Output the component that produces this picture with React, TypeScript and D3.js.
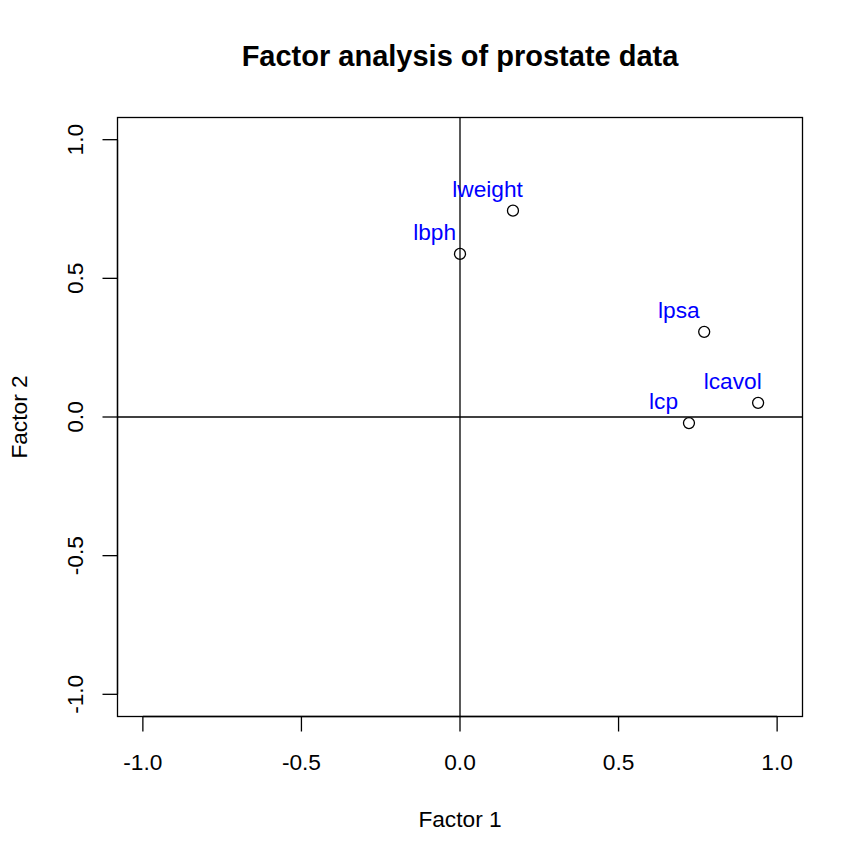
import React from "react";
import * as d3 from "d3";

const variables = ["lcavol", "lweight", "lbph", "lcp", "lpsa"];
const factor1 = [0.94, 0.167, 0.0, 0.722, 0.77];
const factor2 = [0.051, 0.744, 0.588, -0.022, 0.307];
const xTicks = [-1.0, -0.5, 0.0, 0.5, 1.0];
const yTicks = [-1.0, -0.5, 0.0, 0.5, 1.0];

export default function App() {
  const W = 864, H = 864;
  const left = 117.5, right = 802.5, top = 117.5, bottom = 716.5;
  const x = d3.scaleLinear().domain([-1.08, 1.08]).range([left, right]);
  const y = d3.scaleLinear().domain([-1.08, 1.08]).range([bottom, top]);
  const font = "Liberation Sans, Arial, Helvetica, sans-serif";
  const fmt = (v: number) => d3.format(".1f")(v).replace("\u2212", "-");
  const fs = 22.7;
  return (
    <svg width={W} height={H} style={{ position: "absolute", left: 0, top: 0 }} fontFamily={font}>
      <rect x={0} y={0} width={W} height={H} fill="white" />
      <text x={(left + right) / 2} y={66} textAnchor="middle" fontWeight="bold" fontSize={29}>
        Factor analysis of prostate data
      </text>
      <rect x={left} y={top} width={right - left} height={bottom - top} fill="none" stroke="black" strokeWidth={1.3} />
      {/* reference lines */}
      <line x1={left} x2={right} y1={y(0)} y2={y(0)} stroke="black" strokeWidth={1.3} />
      <line x1={x(0)} x2={x(0)} y1={top} y2={bottom} stroke="black" strokeWidth={1.3} />
      {/* x axis */}
      <line x1={x(xTicks[0])} x2={x(xTicks[xTicks.length - 1])} y1={bottom} y2={bottom} stroke="black" strokeWidth={1.3} />
      {xTicks.map((t) => (
        <g key={"x" + t}>
          <line x1={x(t)} x2={x(t)} y1={bottom} y2={bottom + 15} stroke="black" strokeWidth={1.3} />
          <text x={x(t)} y={770} textAnchor="middle" fontSize={fs}>{fmt(t)}</text>
        </g>
      ))}
      {/* y axis */}
      <line x1={left} x2={left} y1={y(yTicks[0])} y2={y(yTicks[yTicks.length - 1])} stroke="black" strokeWidth={1.3} />
      {yTicks.map((t) => (
        <g key={"y" + t}>
          <line x1={left} x2={left - 15} y1={y(t)} y2={y(t)} stroke="black" strokeWidth={1.3} />
          <text transform={`translate(83,${y(t)}) rotate(-90)`} textAnchor="middle" fontSize={fs}>{fmt(t)}</text>
        </g>
      ))}
      <text x={(left + right) / 2} y={827} textAnchor="middle" fontSize={fs}>Factor 1</text>
      <text transform={`translate(27,${(top + bottom) / 2}) rotate(-90)`} textAnchor="middle" fontSize={fs}>Factor 2</text>
      {variables.map((v, i) => (
        <g key={v}>
          <circle cx={x(factor1[i])} cy={y(factor2[i])} r={5.5} fill="none" stroke="black" strokeWidth={1.3} />
          <text x={x(factor1[i] - 0.08)} y={y(factor2[i] + 0.08)} dy="0.36em" textAnchor="middle" fontSize={fs} fill="blue">{v}</text>
        </g>
      ))}
    </svg>
  );
}
